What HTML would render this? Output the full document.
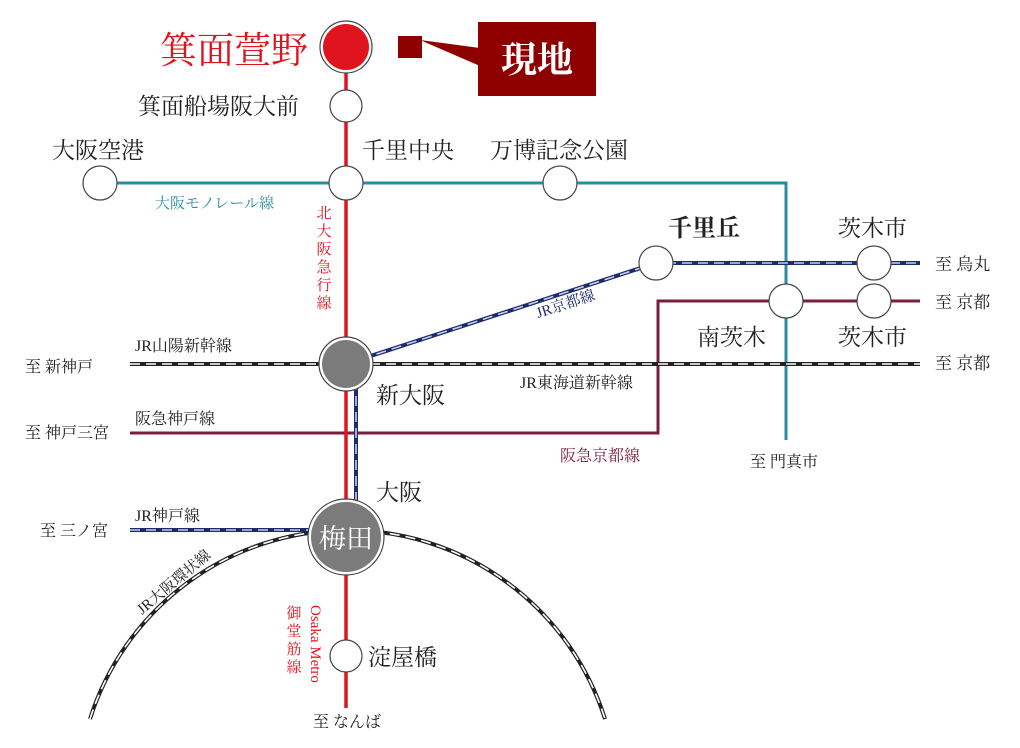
<!DOCTYPE html>
<html><head><meta charset="utf-8"><style>
html,body{margin:0;padding:0;background:#fff;}
svg{display:block;}
text{font-family:"Liberation Serif","Noto Serif CJK JP","Noto Serif CJK SC",serif;fill:#222;}
</style></head><body>
<svg width="1020" height="748" viewBox="0 0 1020 748" xmlns="http://www.w3.org/2000/svg">
<path d="M90,719 A270,270 0 0 1 605,719" fill="none" stroke="#222" stroke-width="4"/>
<path d="M90,719 A270,270 0 0 1 605,719" fill="none" stroke="#fff" stroke-width="1.6" stroke-dasharray="10,6"/>
<path d="M100,183 H786 V440" fill="none" stroke="#2b8ba0" stroke-width="3"/>
<path d="M130,433 H658 V301 H920" fill="none" stroke="#7a1c3c" stroke-width="3"/>
<line x1="130" y1="364" x2="920" y2="364" stroke="#222" stroke-width="4"/>
<line x1="130" y1="364" x2="920" y2="364" stroke="#fff" stroke-width="1.6" stroke-dasharray="10,6"/>
<g stroke-width="4" fill="none">
<path d="M346,364 L656,263 H920 M356,364 V505 M130,530 H315" stroke="#1c2a6e"/>
</g>
<g stroke-width="1.6" fill="none" stroke="#c8d0e8" stroke-dasharray="10,6">
<path d="M346,364 L656,263 H920 M356,364 V505 M130,530 H315"/>
</g>
<line x1="346" y1="50" x2="346" y2="708" stroke="#e0141e" stroke-width="3.5"/>
<g fill="#fff" stroke="#444" stroke-width="1.2">
<circle cx="346" cy="106" r="16"/>
<circle cx="100" cy="183" r="17"/>
<circle cx="346" cy="183" r="17"/>
<circle cx="560" cy="183" r="17"/>
<circle cx="656" cy="263" r="17"/>
<circle cx="874" cy="263" r="17"/>
<circle cx="786" cy="301" r="17"/>
<circle cx="874" cy="301" r="17"/>
<circle cx="346" cy="656" r="16"/>
<circle cx="346" cy="47" r="26"/>
<circle cx="346" cy="364" r="27"/>
<circle cx="346" cy="537" r="38"/>
</g>
<circle cx="346" cy="47" r="23" fill="#e0141e"/>
<circle cx="346" cy="364" r="24" fill="#7b7b7b"/>
<circle cx="346" cy="537" r="35" fill="#7b7b7b"/>
<text x="346" y="548" text-anchor="middle" font-size="27" style="fill:#fff">梅田</text>
<rect x="398" y="36" width="24" height="22" fill="#8e0000"/>
<polygon points="420,40 480,48 480,66" fill="#8e0000"/>
<rect x="478" y="22" width="118" height="74" fill="#8e0000"/>
<text x="537" y="72" text-anchor="middle" font-size="36" font-weight="bold" style="fill:#fff">現地</text>
<text x="160" y="63" font-size="37" style="fill:#e0141e">箕面萱野</text>
<text x="138" y="114" font-size="23">箕面船場阪大前</text>
<text x="52" y="158" font-size="23">大阪空港</text>
<text x="362" y="158" font-size="23">千里中央</text>
<text x="490" y="158" font-size="23">万博記念公園</text>
<text x="155" y="208" font-size="15" style="fill:#2b8ba0">大阪モノレール線</text>
<g font-size="15">
<text x="324" y="218" text-anchor="middle" style="fill:#e0141e">北</text>
<text x="324" y="236" text-anchor="middle" style="fill:#e0141e">大</text>
<text x="324" y="254" text-anchor="middle" style="fill:#e0141e">阪</text>
<text x="324" y="272" text-anchor="middle" style="fill:#e0141e">急</text>
<text x="324" y="290" text-anchor="middle" style="fill:#e0141e">行</text>
<text x="324" y="308" text-anchor="middle" style="fill:#e0141e">線</text>
</g>
<text x="668" y="236" font-size="24" font-weight="bold">千里丘</text>
<text x="838" y="236" font-size="23">茨木市</text>
<text x="935" y="270" font-size="17">至 烏丸</text>
<text x="935" y="308" font-size="17">至 京都</text>
<text x="935" y="369" font-size="17">至 京都</text>
<text x="697" y="345" font-size="23">南茨木</text>
<text x="838" y="345" font-size="23">茨木市</text>
<text x="538" y="318" font-size="15" transform="rotate(-18 538 318)" style="fill:#1c2a6e">JR京都線</text>
<text x="135" y="351" font-size="16">JR山陽新幹線</text>
<text x="25" y="372" font-size="16">至 新神戸</text>
<text x="376" y="403" font-size="23">新大阪</text>
<text x="520" y="388" font-size="16">JR東海道新幹線</text>
<text x="135" y="424" font-size="16">阪急神戸線</text>
<text x="25" y="438" font-size="16">至 神戸三宮</text>
<text x="560" y="461" font-size="16" style="fill:#7a1c3c">阪急京都線</text>
<text x="750" y="467" font-size="16">至 門真市</text>
<text x="376" y="500" font-size="23">大阪</text>
<text x="135" y="521" font-size="16">JR神戸線</text>
<text x="40" y="536" font-size="16">至 三ノ宮</text>
<text x="142" y="615" font-size="15" transform="rotate(-40 142 615)">JR大阪環状線</text>
<text x="311" y="605" font-size="15" transform="rotate(90 311 605)" style="fill:#e0141e">Osaka Metro</text>
<g font-size="15">
<text x="294" y="618" text-anchor="middle" style="fill:#e0141e">御</text>
<text x="294" y="636" text-anchor="middle" style="fill:#e0141e">堂</text>
<text x="294" y="654" text-anchor="middle" style="fill:#e0141e">筋</text>
<text x="294" y="672" text-anchor="middle" style="fill:#e0141e">線</text>
</g>
<text x="368" y="665" font-size="23">淀屋橋</text>
<text x="313" y="727" font-size="16">至 なんば</text>
</svg>
</body></html>
